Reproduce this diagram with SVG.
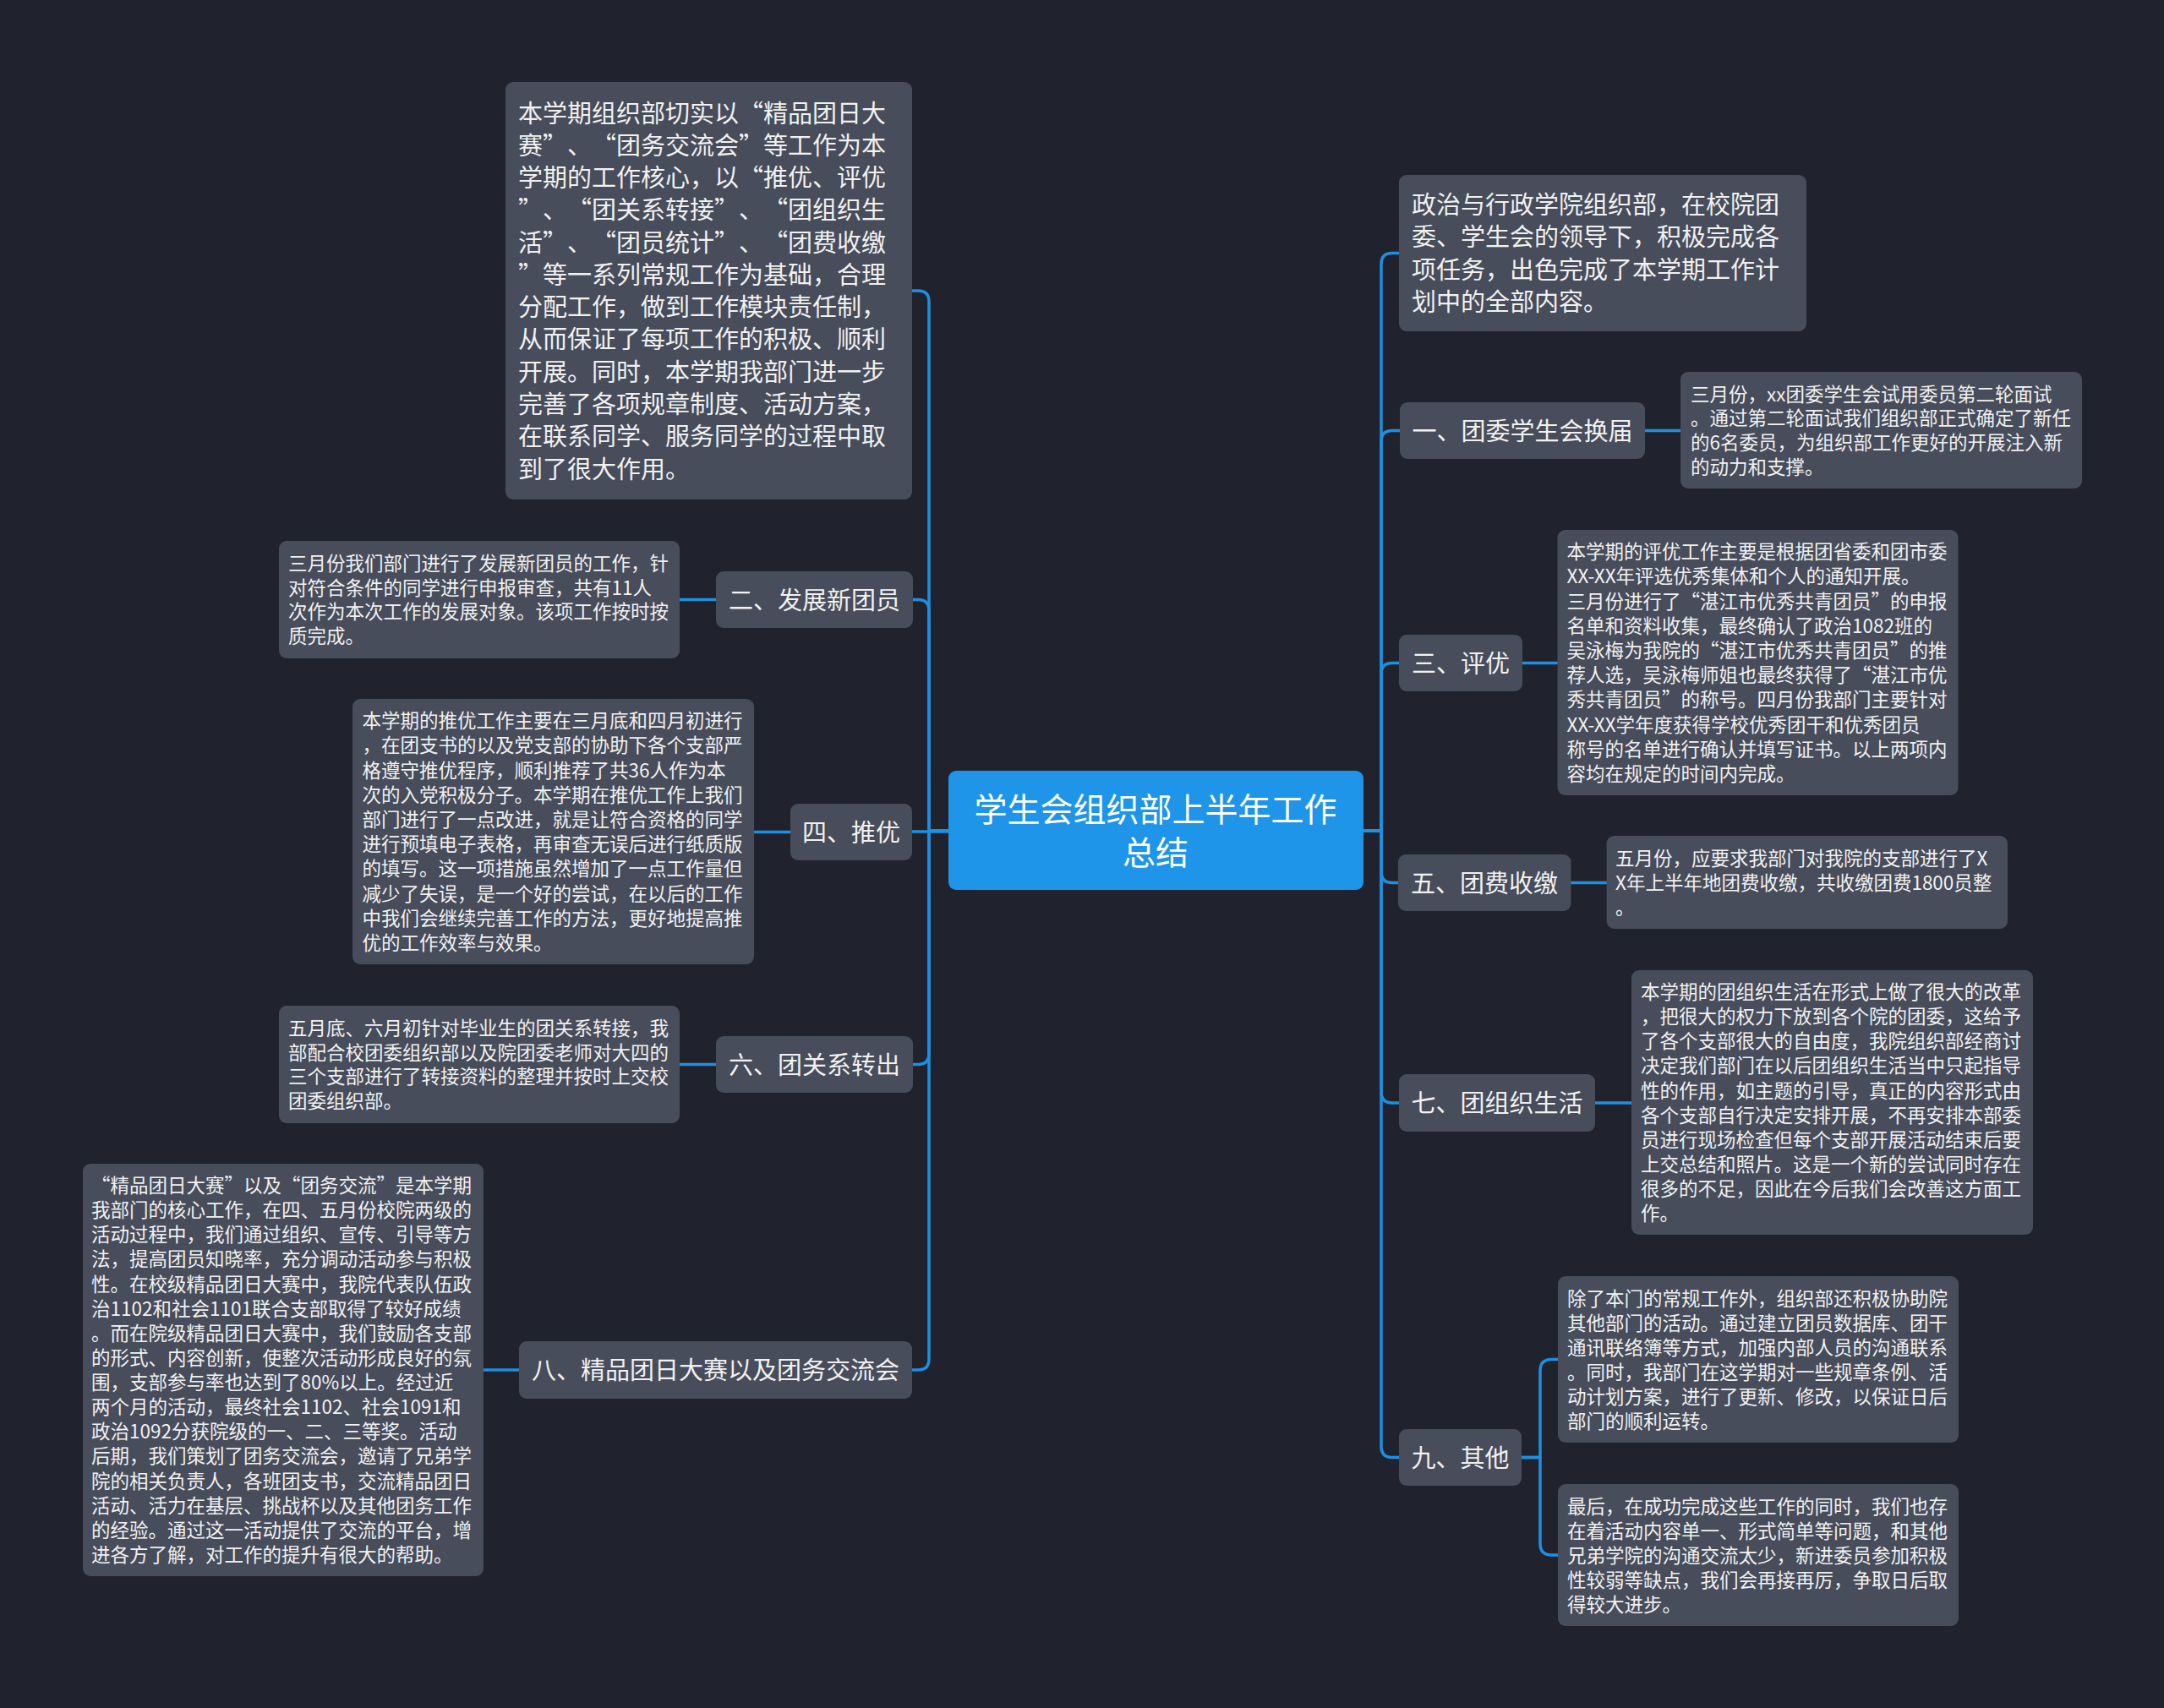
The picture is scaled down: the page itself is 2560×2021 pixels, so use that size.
<svg xmlns="http://www.w3.org/2000/svg" width="2560" height="2021" viewBox="0 0 2560 2021">
<style>
.bg{fill:#20232e}
.box{fill:#474d5b}
.root{fill:#1e95e8}
.t{font-family:"Noto Sans CJK SC","Noto Sans",sans-serif;fill:#f1f1f1}
.s{font-size:22.5px}
.m{font-size:29px}
.lbl{font-size:29px;text-anchor:middle}
.rt{font-size:39px;text-anchor:middle;fill:#ffffff}
.c{fill:none;stroke:#1f8fe0;stroke-width:3.5;stroke-linecap:round;stroke-linejoin:round}
</style>
<rect class="bg" x="0" y="0" width="2560" height="2021"/>

<g id="connectors">
<path class="c" d="M1122 983 H1099 V357 Q1099 344 1086 344 H1079"/>
<path class="c" d="M1122 983 H1099 V722.5 Q1099 709.5 1086 709.5 H1080"/>
<path class="c" d="M1122 984 H1079"/>
<path class="c" d="M1122 983 H1099 V1246.5 Q1099 1259.5 1086 1259.5 H1080"/>
<path class="c" d="M1122 983 H1099 V1608 Q1099 1621 1086 1621 H1079"/>
<path class="c" d="M1613 983 H1634 V312.5 Q1634 299.5 1647 299.5 H1655"/>
<path class="c" d="M1613 983 H1634 V522.5 Q1634 509.5 1647 509.5 H1656"/>
<path class="c" d="M1613 983 H1634 V797.5 Q1634 784.5 1647 784.5 H1655"/>
<path class="c" d="M1613 983 H1634 V1031.5 Q1634 1044.5 1647 1044.5 H1654"/>
<path class="c" d="M1613 983 H1634 V1292 Q1634 1305 1647 1305 H1655"/>
<path class="c" d="M1613 983 H1634 V1711.5 Q1634 1724.5 1647 1724.5 H1655"/>
<path class="c" d="M804 709.5 H847"/>
<path class="c" d="M892 984.5 H935"/>
<path class="c" d="M804 1259.5 H847"/>
<path class="c" d="M572 1621 H614"/>
<path class="c" d="M1946 509.5 H1988"/>
<path class="c" d="M1801 784.5 H1842.5"/>
<path class="c" d="M1858.5 1044.5 H1900.6"/>
<path class="c" d="M1887 1305 H1930"/>
<path class="c" d="M1800 1724.5 H1822 V1622 Q1822 1608.5 1835.5 1608.5 H1843"/>
<path class="c" d="M1800 1724.5 H1822 V1826.5 Q1822 1840 1835.5 1840 H1843"/>
</g>

<g id="root">
<rect class="root" x="1122" y="912" width="491" height="141" rx="9"/>
<text class="t rt"><tspan x="1367" y="971.5">学生会组织部上半年工作</tspan><tspan x="1367" y="1022.5">总结</tspan></text>
</g>

<g id="n-top-left">
<rect class="box" x="598" y="97" width="481" height="494" rx="9"/>
<text class="t m">
<tspan x="613" y="144.5">本学期组织部切实以</tspan><tspan x="874" y="144.5">“</tspan><tspan x="903" y="144.5">精品团日大</tspan>
<tspan x="613" y="182.8">赛</tspan><tspan x="642" y="182.8">”</tspan><tspan x="671" y="182.8">、</tspan><tspan x="700" y="182.8">“</tspan><tspan x="729" y="182.8">团务交流会</tspan><tspan x="874" y="182.8">”</tspan><tspan x="903" y="182.8">等工作为本</tspan>
<tspan x="613" y="221">学期的工作核心，以</tspan><tspan x="874" y="221">“</tspan><tspan x="903" y="221">推优、评优</tspan>
<tspan x="613" y="259.3">”</tspan><tspan x="642" y="259.3">、</tspan><tspan x="671" y="259.3">“</tspan><tspan x="700" y="259.3">团关系转接</tspan><tspan x="845" y="259.3">”</tspan><tspan x="874" y="259.3">、</tspan><tspan x="903" y="259.3">“</tspan><tspan x="932" y="259.3">团组织生</tspan>
<tspan x="613" y="297.6">活</tspan><tspan x="642" y="297.6">”</tspan><tspan x="671" y="297.6">、</tspan><tspan x="700" y="297.6">“</tspan><tspan x="729" y="297.6">团员统计</tspan><tspan x="845" y="297.6">”</tspan><tspan x="874" y="297.6">、</tspan><tspan x="903" y="297.6">“</tspan><tspan x="932" y="297.6">团费收缴</tspan>
<tspan x="613" y="335.9">”</tspan><tspan x="642" y="335.9">等一系列常规工作为基础，合理</tspan>
<tspan x="613" y="374.1">分配工作，做到工作模块责任制，</tspan>
<tspan x="613" y="412.4">从而保证了每项工作的积极、顺利</tspan>
<tspan x="613" y="450.7">开展。同时，本学期我部门进一步</tspan>
<tspan x="613" y="489">完善了各项规章制度、活动方案，</tspan>
<tspan x="613" y="527.2">在联系同学、服务同学的过程中取</tspan>
<tspan x="613" y="565.5">到了很大作用。</tspan>
</text>
</g>

<g id="n2">
<rect class="box" x="847" y="676" width="233" height="67" rx="9"/>
<text class="t lbl" x="963.5" y="720.5">二、发展新团员</text>
</g>
<g id="n2-text">
<rect class="box" x="330" y="640" width="474" height="139" rx="9"/>
<text class="t s">
<tspan x="341" y="675">三月份我们部门进行了发展新团员的工作，针</tspan>
<tspan x="341" y="703.7">对符合条件的同学进行申报审查，共有11人</tspan>
<tspan x="341" y="732.3">次作为本次工作的发展对象。该项工作按时按</tspan>
<tspan x="341" y="761">质完成。</tspan>
</text>
</g>

<g id="n4">
<rect class="box" x="935" y="951" width="144" height="67" rx="9"/>
<text class="t lbl" x="1007" y="995.5">四、推优</text>
</g>
<g id="n4-text">
<rect class="box" x="417" y="827" width="475" height="314" rx="9"/>
<text class="t s">
<tspan x="428.5" y="861.1">本学期的推优工作主要在三月底和四月初进行</tspan>
<tspan x="428.5" y="890.3">，在团支书的以及党支部的协助下各个支部严</tspan>
<tspan x="428.5" y="919.5">格遵守推优程序，顺利推荐了共36人作为本</tspan>
<tspan x="428.5" y="948.7">次的入党积极分子。本学期在推优工作上我们</tspan>
<tspan x="428.5" y="977.9">部门进行了一点改进，就是让符合资格的同学</tspan>
<tspan x="428.5" y="1007.1">进行预填电子表格，再审查无误后进行纸质版</tspan>
<tspan x="428.5" y="1036.3">的填写。这一项措施虽然增加了一点工作量但</tspan>
<tspan x="428.5" y="1065.5">减少了失误，是一个好的尝试，在以后的工作</tspan>
<tspan x="428.5" y="1094.7">中我们会继续完善工作的方法，更好地提高推</tspan>
<tspan x="428.5" y="1123.9">优的工作效率与效果。</tspan>
</text>
</g>

<g id="n6">
<rect class="box" x="847" y="1226" width="233" height="67" rx="9"/>
<text class="t lbl" x="963.5" y="1270.5">六、团关系转出</text>
</g>
<g id="n6-text">
<rect class="box" x="330" y="1190" width="474" height="139" rx="9"/>
<text class="t s">
<tspan x="341" y="1225">五月底、六月初针对毕业生的团关系转接，我</tspan>
<tspan x="341" y="1253.7">部配合校团委组织部以及院团委老师对大四的</tspan>
<tspan x="341" y="1282.3">三个支部进行了转接资料的整理并按时上交校</tspan>
<tspan x="341" y="1311">团委组织部。</tspan>
</text>
</g>

<g id="n8">
<rect class="box" x="614" y="1587" width="465" height="68" rx="9"/>
<text class="t lbl" x="846.5" y="1632">八、精品团日大赛以及团务交流会</text>
</g>
<g id="n8-text">
<rect class="box" x="98" y="1377" width="474" height="488" rx="9"/>
<text class="t s">
<tspan x="108" y="1411">“</tspan><tspan x="130.5" y="1411">精品团日大赛</tspan><tspan x="265.5" y="1411">”</tspan><tspan x="288" y="1411">以及</tspan><tspan x="333" y="1411">“</tspan><tspan x="355.5" y="1411">团务交流</tspan><tspan x="445.5" y="1411">”</tspan><tspan x="468" y="1411">是本学期</tspan>
<tspan x="108" y="1440.1">我部门的核心工作，在四、五月份校院两级的</tspan>
<tspan x="108" y="1469.3">活动过程中，我们通过组织、宣传、引导等方</tspan>
<tspan x="108" y="1498.4">法，提高团员知晓率，充分调动活动参与积极</tspan>
<tspan x="108" y="1527.5">性。在校级精品团日大赛中，我院代表队伍政</tspan>
<tspan x="108" y="1556.7">治1102和社会1101联合支部取得了较好成绩</tspan>
<tspan x="108" y="1585.8">。而在院级精品团日大赛中，我们鼓励各支部</tspan>
<tspan x="108" y="1614.9">的形式、内容创新，使整次活动形成良好的氛</tspan>
<tspan x="108" y="1644">围，支部参与率也达到了80%以上。经过近</tspan>
<tspan x="108" y="1673.2">两个月的活动，最终社会1102、社会1091和</tspan>
<tspan x="108" y="1702.3">政治1092分获院级的一、二、三等奖。活动</tspan>
<tspan x="108" y="1731.4">后期，我们策划了团务交流会，邀请了兄弟学</tspan>
<tspan x="108" y="1760.6">院的相关负责人，各班团支书，交流精品团日</tspan>
<tspan x="108" y="1789.7">活动、活力在基层、挑战杯以及其他团务工作</tspan>
<tspan x="108" y="1818.8">的经验。通过这一活动提供了交流的平台，增</tspan>
<tspan x="108" y="1848">进各方了解，对工作的提升有很大的帮助。</tspan>
</text>
</g>

<g id="n-top-right">
<rect class="box" x="1655" y="207" width="482" height="185" rx="9"/>
<text class="t m">
<tspan x="1670" y="253">政治与行政学院组织部，在校院团</tspan>
<tspan x="1670" y="291.3">委、学生会的领导下，积极完成各</tspan>
<tspan x="1670" y="329.6">项任务，出色完成了本学期工作计</tspan>
<tspan x="1670" y="367.9">划中的全部内容。</tspan>
</text>
</g>

<g id="n1">
<rect class="box" x="1656" y="476" width="290" height="67" rx="9"/>
<text class="t lbl" x="1801" y="520.5">一、团委学生会换届</text>
</g>
<g id="n1-text">
<rect class="box" x="1988" y="440" width="475" height="138" rx="9"/>
<text class="t s">
<tspan x="2000" y="474.5">三月份，xx团委学生会试用委员第二轮面试</tspan>
<tspan x="2000" y="503.2">。通过第二轮面试我们组织部正式确定了新任</tspan>
<tspan x="2000" y="531.8">的6名委员，为组织部工作更好的开展注入新</tspan>
<tspan x="2000" y="560.5">的动力和支撑。</tspan>
</text>
</g>

<g id="n3">
<rect class="box" x="1655" y="751" width="146" height="67" rx="9"/>
<text class="t lbl" x="1728" y="795.5">三、评优</text>
</g>
<g id="n3-text">
<rect class="box" x="1842.5" y="627" width="474" height="314" rx="9"/>
<text class="t s">
<tspan x="1853.5" y="661.1">本学期的评优工作主要是根据团省委和团市委</tspan>
<tspan x="1853.5" y="690.3">XX-XX年评选优秀集体和个人的通知开展。</tspan>
<tspan x="1853.5" y="719.5">三月份进行了</tspan><tspan x="1988.5" y="719.5">“</tspan><tspan x="2011" y="719.5">湛江市优秀共青团员</tspan><tspan x="2213.5" y="719.5">”</tspan><tspan x="2236" y="719.5">的申报</tspan>
<tspan x="1853.5" y="748.7">名单和资料收集，最终确认了政治1082班的</tspan>
<tspan x="1853.5" y="777.9">吴泳梅为我院的</tspan><tspan x="2011" y="777.9">“</tspan><tspan x="2033.5" y="777.9">湛江市优秀共青团员</tspan><tspan x="2236" y="777.9">”</tspan><tspan x="2258.5" y="777.9">的推</tspan>
<tspan x="1853.5" y="807.1">荐人选，吴泳梅师姐也最终获得了</tspan><tspan x="2191" y="807.1">“</tspan><tspan x="2213.5" y="807.1">湛江市优</tspan>
<tspan x="1853.5" y="836.3">秀共青团员</tspan><tspan x="1966" y="836.3">”</tspan><tspan x="1988.5" y="836.3">的称号。四月份我部门主要针对</tspan>
<tspan x="1853.5" y="865.5">XX-XX学年度获得学校优秀团干和优秀团员</tspan>
<tspan x="1853.5" y="894.7">称号的名单进行确认并填写证书。以上两项内</tspan>
<tspan x="1853.5" y="923.9">容均在规定的时间内完成。</tspan>
</text>
</g>

<g id="n5">
<rect class="box" x="1654" y="1011" width="204.5" height="67" rx="9"/>
<text class="t lbl" x="1756" y="1055.5">五、团费收缴</text>
</g>
<g id="n5-text">
<rect class="box" x="1900.6" y="989" width="474.4" height="110" rx="9"/>
<text class="t s">
<tspan x="1911" y="1023.5">五月份，应要求我部门对我院的支部进行了X</tspan>
<tspan x="1911" y="1052.5">X年上半年地团费收缴，共收缴团费1800员整</tspan>
<tspan x="1911" y="1081.5">。</tspan>
</text>
</g>

<g id="n7">
<rect class="box" x="1655" y="1271" width="232" height="68" rx="9"/>
<text class="t lbl" x="1771" y="1316">七、团组织生活</text>
</g>
<g id="n7-text">
<rect class="box" x="1930" y="1148" width="475" height="313" rx="9"/>
<text class="t s">
<tspan x="1941" y="1182.1">本学期的团组织生活在形式上做了很大的改革</tspan>
<tspan x="1941" y="1211.2">，把很大的权力下放到各个院的团委，这给予</tspan>
<tspan x="1941" y="1240.3">了各个支部很大的自由度，我院组织部经商讨</tspan>
<tspan x="1941" y="1269.4">决定我们部门在以后团组织生活当中只起指导</tspan>
<tspan x="1941" y="1298.5">性的作用，如主题的引导，真正的内容形式由</tspan>
<tspan x="1941" y="1327.6">各个支部自行决定安排开展，不再安排本部委</tspan>
<tspan x="1941" y="1356.7">员进行现场检查但每个支部开展活动结束后要</tspan>
<tspan x="1941" y="1385.8">上交总结和照片。这是一个新的尝试同时存在</tspan>
<tspan x="1941" y="1414.9">很多的不足，因此在今后我们会改善这方面工</tspan>
<tspan x="1941" y="1444">作。</tspan>
</text>
</g>

<g id="n9">
<rect class="box" x="1655" y="1691" width="145" height="67" rx="9"/>
<text class="t lbl" x="1727.5" y="1735.5">九、其他</text>
</g>
<g id="n9-text-a">
<rect class="box" x="1843" y="1510" width="474" height="197" rx="9"/>
<text class="t s">
<tspan x="1854" y="1544.5">除了本门的常规工作外，组织部还积极协助院</tspan>
<tspan x="1854" y="1573.5">其他部门的活动。通过建立团员数据库、团干</tspan>
<tspan x="1854" y="1602.5">通讯联络簿等方式，加强内部人员的沟通联系</tspan>
<tspan x="1854" y="1631.5">。同时，我部门在这学期对一些规章条例、活</tspan>
<tspan x="1854" y="1660.5">动计划方案，进行了更新、修改，以保证日后</tspan>
<tspan x="1854" y="1689.5">部门的顺利运转。</tspan>
</text>
</g>
<g id="n9-text-b">
<rect class="box" x="1843" y="1756" width="474" height="168" rx="9"/>
<text class="t s">
<tspan x="1854" y="1790.5">最后，在成功完成这些工作的同时，我们也存</tspan>
<tspan x="1854" y="1819.5">在着活动内容单一、形式简单等问题，和其他</tspan>
<tspan x="1854" y="1848.5">兄弟学院的沟通交流太少，新进委员参加积极</tspan>
<tspan x="1854" y="1877.5">性较弱等缺点，我们会再接再厉，争取日后取</tspan>
<tspan x="1854" y="1906.5">得较大进步。</tspan>
</text>
</g>
</svg>
